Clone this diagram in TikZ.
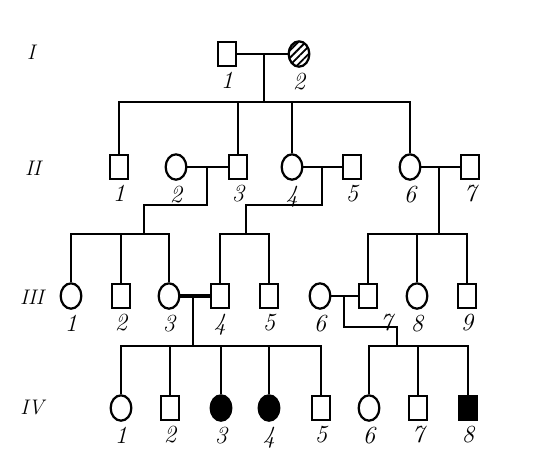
\documentclass[tikz,border=0pt]{standalone}
\usetikzlibrary{shapes.geometric, patterns.meta, positioning}
\tikzset{
  male/.style={rectangle, draw=black, line width=1.9pt, minimum width=0.56cm, minimum height=0.7cm, inner sep=0pt},
  female/.style={ellipse, draw=black, line width=1.9pt, minimum width=0.62cm, minimum height=0.76cm, inner sep=0pt},
  affected/.style={fill=black},
  carrier/.style={pattern={Lines[angle=45, distance=4.5pt, line width=1.6pt]}},
  num/.style={font=\fontsize{21}{21}\selectfont\itshape, inner sep=0.5pt, label distance=1.3mm},
  gen/.style={font=\fontsize{18}{18}\selectfont\itshape},
  link/.style={line width=2.2pt},
}
\begin{document}
\begin{tikzpicture}[x=0.03cm, y=-0.03cm, every label/.style={num}]
\useasboundingbox (0,0) rectangle (560,467);
% generation numbers
\node[gen] (gI) at (31,52) {I};
\node[gen] (gII) at (33,168) {II};
\node[gen] (gIII) at (32,297) {III};
\node[gen] (gIV) at (32,408) {IV};
% I
\node[male, label=below:1] (i1) at (227,54) {};
\node[female, carrier, label=below:2] (i2) at (299,54) {};
% II
\node[male, label=below:1] (ii1) at (119,167) {};
\node[female, label=below:2] (ii2) at (176,167) {};
\node[male, label=below:3] (ii3) at (238,167) {};
\node[female, label=below:4] (ii4) at (292,167) {};
\node[male, label=below:5] (ii5) at (352,167) {};
\node[female, label=below:6] (ii6) at (410,167) {};
\node[male, label=below:7] (ii7) at (470,167) {};
% III
\node[female, label=below:1] (iii1) at (71,296) {};
\node[male, label=below:2] (iii2) at (121,296) {};
\node[female, label=below:3] (iii3) at (169,296) {};
\node[male, label=below:4] (iii4) at (220,296) {};
\node[male, label=below:5] (iii5) at (269,296) {};
\node[female, label=below:6] (iii6) at (320,296) {};
\node[male, label={[xshift=0.55cm]below:7}] (iii7) at (368,296) {};
\node[female, label=below:8] (iii8) at (417,296) {};
\node[male, label=below:9] (iii9) at (467,296) {};
% IV
\node[female, label=below:1] (iv1) at (121,408) {};
\node[male, label=below:2] (iv2) at (170,408) {};
\node[female, affected, label=below:3] (iv3) at (221,408) {};
\node[female, affected, label=below:4] (iv4) at (269,408) {};
\node[male, label=below:5] (iv5) at (321,408) {};
\node[female, label=below:6] (iv6) at (369,408) {};
\node[male, label=below:7] (iv7) at (418,408) {};
\node[male, affected, label=below:8] (iv8) at (468,408) {};

% marriages and their drop points
\coordinate (mI) at (264,54);    \coordinate (sI) at (264,102);
\coordinate (mA) at (207,167);   \coordinate (sA) at (144,234);
\coordinate (mB) at (322,167);   \coordinate (sB) at (246,234);
\coordinate (mC) at (439,167);   \coordinate (sC) at (439,234);
\coordinate (mD) at (193,296);   \coordinate (sD) at (193,346);
\coordinate (mE) at (344,296);   \coordinate (sE) at (397,346);

\draw[link] (i1) -- (i2);
\draw[link] (ii2) -- (ii3);
\draw[link] (ii4) -- (ii5);
\draw[link] (ii6) -- (ii7);
\draw[line width=3.6pt] (iii3) -- (iii4);
\draw[link] (iii6) -- (iii7);

\draw[link] (mI) -- (sI);
\draw[link] (mA) -- (mA |- 0,205) -| (sA);
\draw[link] (mB) -- (mB |- 0,205) -| (sB);
\draw[link] (mC) -- (sC);
\draw[link] (mD) -- (sD);
\draw[link] (mE) -- (mE |- 0,327) -| (sE);

% sibships
\draw[link] (ii1.north) |- (sI) (ii3.north) |- (sI) (ii4.north) |- (sI) (ii6.north) |- (sI);
\draw[link] (iii1.north) |- (sA) (iii2.north) |- (sA) (iii3.north) |- (sA);
\draw[link] (iii4.north) |- (sB) (iii5.north) |- (sB);
\draw[link] (iii7.north) |- (sC) (iii8.north) |- (sC) (iii9.north) |- (sC);
\draw[link] (iv1.north) |- (sD) (iv2.north) |- (sD) (iv3.north) |- (sD) (iv4.north) |- (sD) (iv5.north) |- (sD);
\draw[link] (iv6.north) |- (sE) (iv7.north) |- (sE) (iv8.north) |- (sE);
\end{tikzpicture}
\end{document}
